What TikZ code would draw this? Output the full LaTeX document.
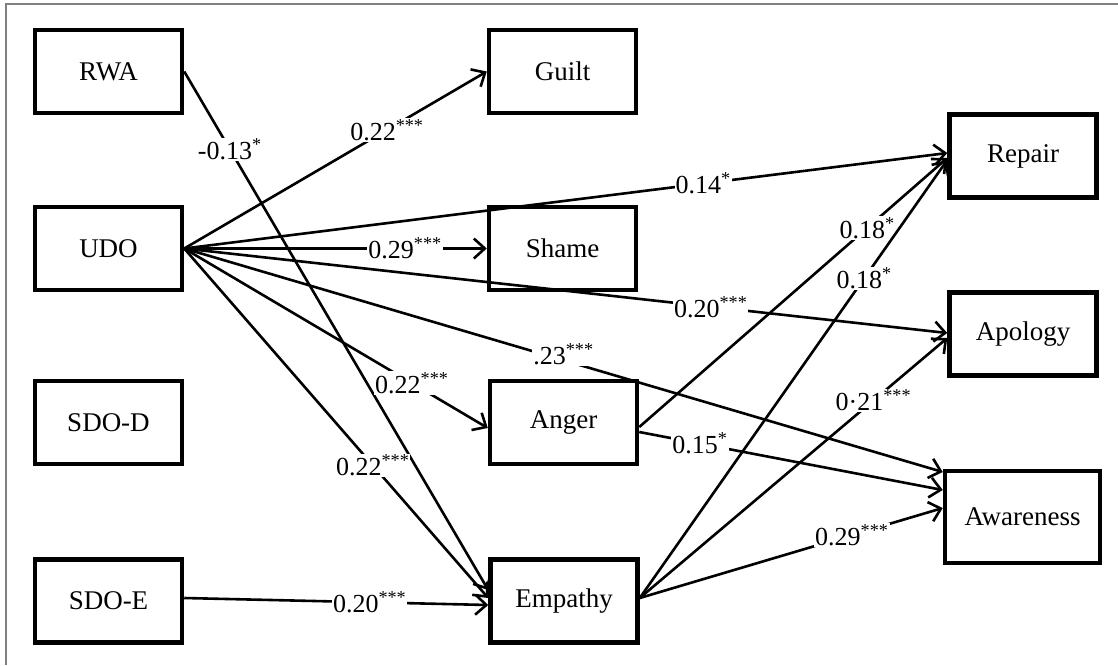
\documentclass[tikz,border=0pt]{standalone}
\usepackage{fontspec}
\setmainfont{Liberation Serif}
\usetikzlibrary{arrows.meta}
\tikzset{
  box/.style={draw, line width=4.5pt, minimum width=147pt, minimum height=83pt, font=\fontsize{27}{30}\selectfont},
  coef/.style={fill=white, inner sep=1pt, font=\fontsize{26}{28}\selectfont},
  link/.style={line width=2.6pt, ->},
}
\begin{document}
\begin{tikzpicture}[x=1pt,y=-1pt,>={Straight Barb[length=11pt,width=20pt]}]
  \useasboundingbox (0,0) rectangle (1118,665);
  \draw[gray, line width=1.5pt] (6,665) -- (6,4) -- (1118,4);
  % predictors
  \node[box] (rwa) at (108.5,71.5) {RWA};
  \node[box] (udo) at (108.5,248.5) {UDO};
  \node[box] (sdod) at (108.5,422.5) {SDO-D};
  \node[box] (sdoe) at (108.5,601) {SDO-E};
  % emotions
  \node[box] (guilt) at (562.5,71.5) {Guilt};
  \node[box] (shame) at (562.5,248.5) {Shame};
  \node[box] (anger) at (563.5,422.5) {Anger};
  \node[box] (empathy) at (564,601) {Empathy};
  % outcomes
  \node[box] (repair) at (1023,156) {Repair};
  \node[box] (apology) at (1023,334) {Apology};
  \node[box, minimum width=155pt, minimum height=92pt] (awareness) at (1022.5,517) {Awareness};
  % paths
  \draw[link] (rwa.east) -- node[coef, pos=0.15] {-0.13\textsuperscript{*}} ([yshift=11pt]empathy.west);
  \draw[link] (udo.east) -- node[coef, pos=0.67] {0.22\textsuperscript{***}} (guilt.west);
  \draw[link] (udo.east) -- node[coef, pos=0.68] {0.14\textsuperscript{*}} ([yshift=3pt]repair.west);
  \draw[link] (udo.east) -- node[coef, pos=0.73] {0.29\textsuperscript{***}} (shame.west);
  \draw[link] (udo.east) -- node[coef, pos=0.69] {0.20\textsuperscript{***}} ([yshift=1pt]apology.west);
  \draw[link] (udo.east) -- node[coef, pos=0.5, yshift=6pt] {.23\textsuperscript{***}} ([yshift=45pt]awareness.west);
  \draw[link] (udo.east) -- node[coef, pos=0.75] {0.22\textsuperscript{***}} ([yshift=-5.5pt]anger.west);
  \draw[link] (udo.east) -- node[coef, pos=0.62] {0.22\textsuperscript{***}} ([yshift=3pt]empathy.west);
  \draw[link] ([yshift=3pt]sdoe.east) -- node[coef, pos=0.61] {0.20\textsuperscript{***}} ([yshift=-4pt]empathy.west);
  \draw[link] ([yshift=-4.5pt]anger.east) -- node[coef, pos=0.74] {0.18\textsuperscript{*}} ([yshift=-2pt]repair.west);
  \draw[link] ([yshift=-9.5pt]anger.east) -- node[coef, pos=0.2] {0.15\textsuperscript{*}} ([yshift=27pt]awareness.west);
  \draw[link] ([yshift=3pt]empathy.east) -- node[coef, pos=0.73] {0.18\textsuperscript{*}} ([yshift=-4pt]repair.west);
  \draw[link] ([yshift=3pt]empathy.east) -- node[coef, pos=0.76] {0·21\textsuperscript{***}} ([yshift=-4pt]apology.west);
  \draw[link] ([yshift=3pt]empathy.east) -- node[coef, pos=0.7] {0.29\textsuperscript{***}} ([yshift=9pt]awareness.west);
\end{tikzpicture}
\end{document}
